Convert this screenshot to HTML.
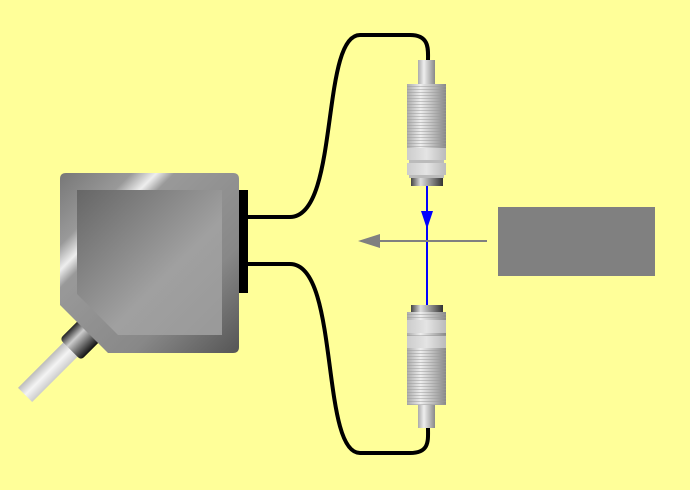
<!DOCTYPE html>
<html><head><style>html,body{margin:0;padding:0;background:#ffff99;}svg{display:block}</style></head>
<body>
<svg width="690" height="490" viewBox="0 0 690 490" xmlns="http://www.w3.org/2000/svg">
<defs>
<linearGradient id="outer" x1="0" y1="0" x2="1" y2="1">
<stop offset="0" stop-color="#777"/><stop offset="0.2" stop-color="#999"/><stop offset="0.27" stop-color="#eee"/><stop offset="0.32" stop-color="#999"/><stop offset="0.7" stop-color="#888"/><stop offset="1" stop-color="#555"/></linearGradient>
<linearGradient id="inner" x1="0" y1="0" x2="1" y2="1">
<stop offset="0" stop-color="#666"/><stop offset="0.6" stop-color="#a0a0a0"/><stop offset="1" stop-color="#999"/></linearGradient>
<linearGradient id="cyl" x1="0" y1="0" x2="1" y2="0">
<stop offset="0" stop-color="#aaa"/><stop offset="0.35" stop-color="#eee"/><stop offset="1" stop-color="#888"/></linearGradient>
<linearGradient id="ring" x1="0" y1="0" x2="1" y2="0">
<stop offset="0" stop-color="#444"/><stop offset="0.3" stop-color="#ddd"/><stop offset="1" stop-color="#333"/></linearGradient>
<linearGradient id="nut" x1="0" y1="0" x2="1" y2="0">
<stop offset="0" stop-color="#ccc"/><stop offset="0.5" stop-color="#e4e4e4"/><stop offset="1" stop-color="#bbb"/></linearGradient>
<pattern id="thread" width="4" height="3" patternUnits="userSpaceOnUse"><rect width="4" height="3" fill="none"/><rect y="2" width="4" height="1" fill="#999" opacity="0.5"/></pattern>
<linearGradient id="cab" x1="0" y1="0" x2="1" y2="0">
<stop offset="0" stop-color="#bbb"/><stop offset="0.5" stop-color="#f4f4f4"/><stop offset="1" stop-color="#ccc"/></linearGradient>
<linearGradient id="plug" x1="0" y1="0" x2="1" y2="0">
<stop offset="0" stop-color="#222"/><stop offset="0.35" stop-color="#ccc"/><stop offset="1" stop-color="#111"/></linearGradient>
</defs>
<path d="M248 217 H290 C340 217 320 35 360 35 H410 C430 35 428 50 428 60" fill="none" stroke="#000" stroke-width="4"/>
<path d="M248 264 H290 C340 264 320 453 360 453 H410 C430 453 428 440 428 428" fill="none" stroke="#000" stroke-width="4"/>
<g transform="translate(76,344) rotate(45)">
<rect x="-10" y="0" width="20" height="72" fill="url(#cab)"/>
<rect x="-15" y="-20" width="30" height="28" rx="4" fill="url(#plug)"/>
</g>
<path d="M66 173 H233 Q239 173 239 179 V347 Q239 353 233 353 H108 L60 305 V179 Q60 173 66 173 Z" fill="url(#outer)"/>
<path d="M77 190 H222 V335 H118 L77 294 Z" fill="url(#inner)"/>
<rect x="239" y="190" width="9" height="103" fill="#000"/>
<rect x="418" y="60" width="17" height="24" fill="url(#cyl)"/>
<rect x="407" y="84" width="39" height="64" fill="url(#cyl)"/>
<rect x="407" y="84" width="39" height="64" fill="url(#thread)"/>
<rect x="407" y="148" width="39" height="12" fill="url(#nut)"/>
<rect x="407" y="163" width="39" height="12" fill="url(#nut)"/>
<rect x="409" y="160" width="35" height="3" fill="#bbb"/>
<rect x="409" y="175" width="35" height="3" fill="#bbb"/>
<rect x="411" y="178" width="32" height="8" fill="url(#ring)"/>
<rect x="411" y="305" width="32" height="7" fill="url(#ring)"/>
<rect x="407" y="312" width="39" height="93" fill="url(#cyl)"/>
<rect x="407" y="312" width="39" height="93" fill="url(#thread)"/>
<rect x="407" y="320" width="39" height="13" fill="url(#nut)"/>
<rect x="407" y="336" width="39" height="12" fill="url(#nut)"/>
<rect x="418" y="405" width="17" height="23" fill="url(#cyl)"/>
<line x1="427" y1="186" x2="427" y2="305" stroke="#0000ff" stroke-width="2"/>
<polygon points="421,211 433,211 427,229" fill="#0000ff"/>
<line x1="378" y1="241" x2="487" y2="241" stroke="#808080" stroke-width="2"/>
<polygon points="358,241 380,234 380,248" fill="#808080"/>
<rect x="498" y="207" width="157" height="69" fill="#808080"/>
</svg>
</body></html>
